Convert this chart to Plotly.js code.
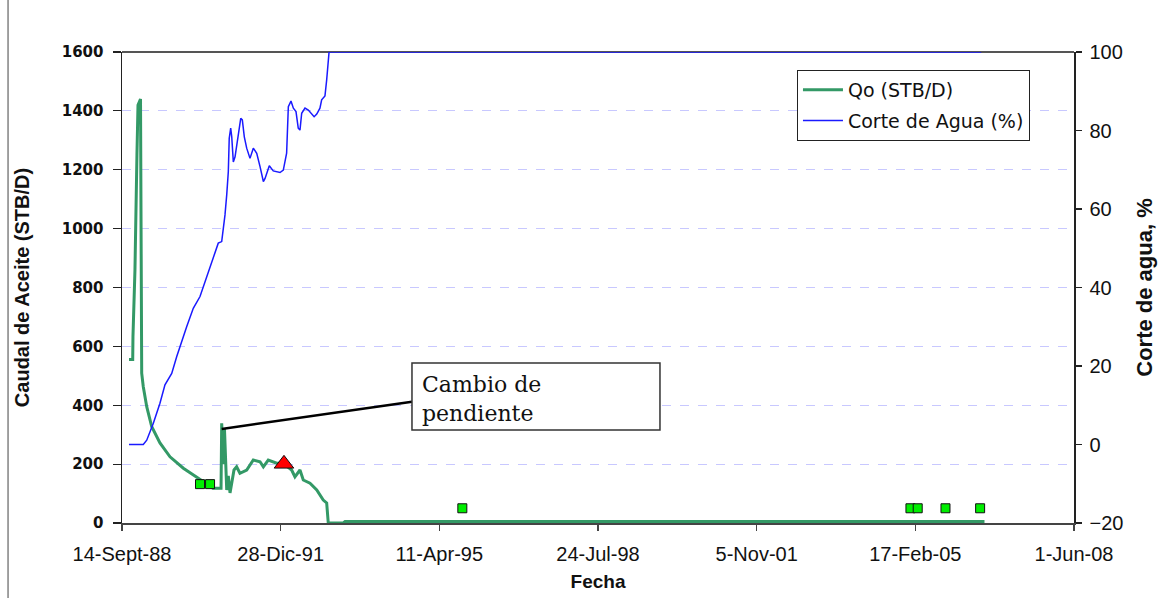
<!DOCTYPE html>
<html>
<head>
<meta charset="utf-8">
<script src="https://cdn.plot.ly/plotly-3.0.1.min.js"></script>
<style>html,body{margin:0;padding:0;background:#fff}#chart{width:1169px;height:598px}</style>
</head>
<body>
<div id="chart"></div>
<script>
// ---- Data ----
const fechasQo = ['1988-11-06','1988-12-04','1988-12-06','1988-12-21','1989-01-05','1989-01-13','1989-02-01','1989-02-05','1989-02-10','1989-02-22','1989-03-20','1989-04-27','1989-06-28','1989-09-12','1989-12-22','1990-04-14','1990-06-04','1990-08-03','1990-10-03','1990-10-08','1990-10-20','1990-10-29','1990-11-15','1990-11-27','1990-12-10','1990-12-23','1991-01-09','1991-01-29','1991-02-23','1991-04-15','1991-06-04','1991-07-25','1991-08-19','1991-09-25','1991-11-28','1992-01-17','1992-03-20','1992-04-14','1992-05-22','1992-06-16','1992-08-06','1992-09-26','1992-11-14','1992-12-10','1992-12-22','1993-04-15','1993-04-28','2006-07-25'];
const qo = [555,555,633,860,1250,1420,1440,628,509,463,395,327,272,225,186,152,135,118,118,339,200,320,112,160,102,136,180,191,169,180,214,208,191,214,203,203,180,157,180,146,135,112,78,68,0,0,5,5];

const fechasCorte = ['1988-11-06','1989-02-22','1989-03-20','1989-05-09','1989-06-28','1989-08-05','1989-09-25','1989-11-02','1990-01-16','1990-03-07','1990-04-27','1990-06-17','1990-08-05','1990-09-12','1990-10-08','1990-10-20','1990-11-02','1990-11-15','1990-11-27','1990-12-04','1990-12-15','1990-12-23','1991-01-04','1991-01-17','1991-01-29','1991-02-11','1991-03-01','1991-03-13','1991-03-28','1991-04-15','1991-05-10','1991-06-04','1991-06-30','1991-07-25','1991-08-19','1991-09-01','1991-10-03','1991-11-02','1991-12-23','1992-01-17','1992-02-11','1992-02-24','1992-03-15','1992-04-02','1992-04-22','1992-05-09','1992-05-22','1992-06-04','1992-06-29','1992-07-24','1992-09-06','1992-09-26','1992-10-20','1992-11-02','1992-11-27','1992-12-10','1992-12-18','1992-12-28','2006-06-30'];
const corte = [0,0,1.1,5.4,10.5,15.2,18.1,22.4,30,34.7,37.7,42.8,47.8,51.3,51.7,54.6,58.5,63.6,69.5,78,80.6,78.4,72,73.3,75.9,78.9,83.1,82.7,78.4,75.5,72.9,75.5,74.2,70.8,67,67.8,71,69.7,69.3,69.9,74.2,86.1,87.5,85.7,84.8,80.6,80.1,84.4,85.7,85.2,83.5,84.2,85.7,87.8,88.8,92.9,96.3,100,100];

const fechasPruebas = ['1990-04-27','1990-07-12','1995-10-02','2005-01-11','2005-03-07','2005-10-03','2006-06-22'];
const qoPruebas = [132,132,50,50,50,50,50];

const fechasCambio = ['1992-01-22'];
const qoCambio = [201];

const tickFechas = ['1988-09-14','1991-12-28','1995-04-11','1998-07-24','2001-11-05','2005-02-17','2008-06-01'];
const tickEtiquetas = ['14-Sept-88','28-Dic-91','11-Apr-95','24-Jul-98','5-Nov-01','17-Feb-05','1-Jun-08'];

const ticksQo = [0,200,400,600,800,1000,1200,1400,1600];
const ticksCorte = [-20,0,20,40,60,80,100];

// ---- Traces ----
const traces = [
  {x: fechasQo, y: qo, name: 'Qo (STB/D)', type: 'scatter', mode: 'lines', legendgroup: 'a',
   line: {color: '#339966', width: 3}, xaxis: 'x', yaxis: 'y'},
  {x: fechasCorte, y: corte, name: 'Corte de Agua (%)', type: 'scatter', mode: 'lines', legendgroup: 'b',
   line: {color: '#1a1aff', width: 1.5}, xaxis: 'x', yaxis: 'y2'},
  {x: fechasPruebas, y: qoPruebas, type: 'scatter', mode: 'markers', showlegend: false,
   marker: {symbol: 'square', size: 9, color: '#00ee00', line: {color: '#111', width: 1}}, xaxis: 'x', yaxis: 'y'},
  {x: fechasCambio, y: qoCambio, type: 'scatter', mode: 'markers', showlegend: false,
   marker: {symbol: 'triangle-up', size: 17, color: '#ff0000', line: {color: '#111', width: 1}}, xaxis: 'x', yaxis: 'y'}
];

const axisFont = {family: 'Liberation Sans, Arial', size: 20, color: '#111'};

const layout = {
  width: 1169, height: 598,
  margin: {l: 122, r: 95, t: 52, b: 75, pad: 0},
  paper_bgcolor: '#fff', plot_bgcolor: '#fff',
  showlegend: true,
  legend: {x: 0.709, y: 0.962, xanchor: 'left', yanchor: 'top',
    bordercolor: '#222', borderwidth: 1, bgcolor: '#fff',
    font: {family: 'DejaVu Sans', size: 19, color: '#111'}, tracegroupgap: 3, itemwidth: 40},
  xaxis: {type: 'date', range: ['1988-09-14', '2008-06-01'],
    tickmode: 'array', tickvals: tickFechas, ticktext: tickEtiquetas,
    ticks: 'outside', ticklen: 6, tickcolor: '#444', tickwidth: 1.5,
    showline: true, linecolor: '#444', linewidth: 2, showgrid: false, zeroline: false,
    tickfont: axisFont, ticklabelstandoff: 6,
    title: {text: '<b>Fecha</b>', font: {family: 'Liberation Sans, Arial', size: 19, color: '#111'}, standoff: 11}},
  yaxis: {range: [0, 1600], tickmode: 'array', tickvals: ticksQo,
    ticks: 'outside', ticklen: 8, tickcolor: '#222', tickwidth: 1.2,
    showline: true, linecolor: '#222', linewidth: 1.5,
    showgrid: true, gridcolor: '#c8c8ff', griddash: 'dash', gridwidth: 1, zeroline: false,
    tickfont: {family: 'DejaVu Sans', size: 15, color: '#111', weight: 'bold'}, ticklabelstandoff: 6,
    title: {text: '<b>Caudal de Aceite (STB/D)</b>', font: {family: 'Liberation Sans, Arial', size: 20, color: '#111'}, standoff: 27}},
  yaxis2: {range: [-20, 100], overlaying: 'y', side: 'right', tickmode: 'array', tickvals: ticksCorte,
    ticks: 'outside', ticklen: 6, tickcolor: '#222', tickwidth: 1.2,
    showline: true, linecolor: '#222', linewidth: 1.5, showgrid: false, zeroline: false,
    tickfont: axisFont, ticklabelstandoff: 4,
    title: {text: '<b>Corte de agua, %</b>', font: {family: 'Liberation Sans, Arial', size: 22, color: '#111'}, standoff: 14}},
  yaxis3: {range: [-20, 100], overlaying: 'y', side: 'right', tickmode: 'array', tickvals: ticksCorte,
    ticks: 'inside', ticklen: 6, tickcolor: '#222', tickwidth: 1.2,
    showline: false, showgrid: false, zeroline: false, showticklabels: false},
  shapes: [
    {type: 'line', xref: 'paper', yref: 'paper', x0: 0, x1: 1, y0: 1, y1: 1,
     line: {color: '#555', width: 2}, layer: 'below'},
    {type: 'line', xref: 'paper', yref: 'paper', x0: 0.1047, y0: 0.1996, x1: 0.3046, y1: 0.2575,
     line: {color: '#000', width: 2.5}},
    {type: 'rect', xref: 'paper', yref: 'paper', x0: 0.3046, x1: 0.5651, y0: 0.1975, y1: 0.3397,
     line: {color: '#333', width: 1.5}, fillcolor: '#fff'},
    {type: 'line', xref: 'paper', yref: 'paper', x0: -0.1197, x1: -0.1197, y0: -0.2, y1: 1.2,
     line: {color: '#444', width: 1}, layer: 'below'}
  ],
  annotations: [
    {xref: 'paper', yref: 'paper', x: 0.313, y: 0.325, xanchor: 'left', yanchor: 'top',
     text: 'Cambio de<br>pendiente', showarrow: false, align: 'left',
     font: {family: 'DejaVu Serif', size: 22, color: '#111'}}
  ]
};

Plotly.newPlot('chart', traces, layout, {displayModeBar: false, staticPlot: true});
</script>
</body>
</html>
